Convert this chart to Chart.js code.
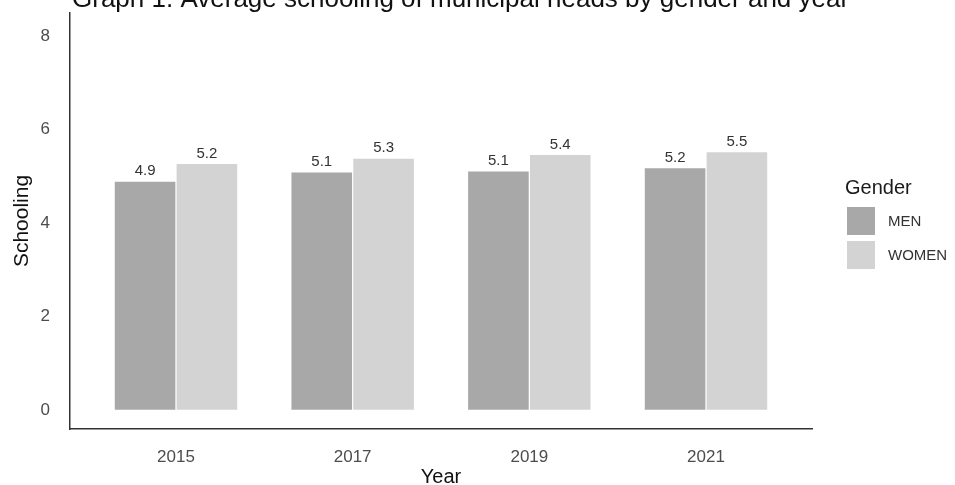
<!DOCTYPE html>
<html>
<head>
<meta charset="utf-8">
<script src="https://cdn.jsdelivr.net/npm/chart.js@4.4.1/dist/chart.umd.min.js"></script>
<style>
  html, body { margin: 0; padding: 0; background: #fff; }
  #wrap { position: relative; width: 955px; height: 485px; font-family: "Liberation Sans", Arial, sans-serif; }
  #chart { position: absolute; left: 0; top: 0; }
  .leg-title { position: absolute; left: 845px; top: 175px; font-size: 20px; color: #1a1a1a; line-height: 24px; }
  .leg-item { position: absolute; left: 847px; height: 28px; }
  .leg-item .sw { position: absolute; left: 0; top: 0; width: 28px; height: 28px; }
  .leg-item .lb { position: absolute; left: 41px; top: 5px; font-size: 15px; color: #333; white-space: nowrap; line-height: 18px; }
</style>
</head>
<body>
<div id="wrap">
  <canvas id="chart" width="955" height="485"></canvas>
  <div id="legend"></div>
</div>
<script>
// data
const years = ['2015', '2017', '2019', '2021'];
const menValues = [4.88, 5.08, 5.10, 5.17];
const womenValues = [5.26, 5.37, 5.45, 5.51];
const menLabels = ['4.9', '5.1', '5.1', '5.2'];
const womenLabels = ['5.2', '5.3', '5.4', '5.5'];
const yTicks = [0, 2, 4, 6, 8];

const menColor = '#a8a8a8';
const womenColor = '#d3d3d3';
const fontFamily = '"Liberation Sans", Arial, sans-serif';

// legend on the right
const legend = document.getElementById('legend');
legend.innerHTML = '<div class="leg-title">Gender</div>' +
  [['MEN', menColor, 207], ['WOMEN', womenColor, 241]].map(function (it) {
    return '<div class="leg-item" style="top:' + it[2] + 'px"><div class="sw" style="background:' + it[1] +
      '"></div><div class="lb">' + it[0] + '</div></div>';
  }).join('');

// title sits partly above the top edge, as in the picture
const titlePlugin = {
  id: 'topTitle',
  afterDraw(chart) {
    const ctx = chart.ctx;
    ctx.save();
    ctx.font = '26px ' + fontFamily;
    ctx.fillStyle = '#111';
    ctx.textAlign = 'left';
    ctx.textBaseline = 'alphabetic';
    ctx.fillText('Graph 1. Average schooling of municipal heads by gender and year', 72, 7);
    ctx.restore();
  }
};

// value labels above the bars
const barLabels = {
  id: 'barLabels',
  afterDatasetsDraw(chart) {
    const ctx = chart.ctx;
    const texts = [menLabels, womenLabels];
    ctx.save();
    ctx.font = '15px ' + fontFamily;
    ctx.fillStyle = '#333';
    ctx.textAlign = 'center';
    ctx.textBaseline = 'bottom';
    chart.data.datasets.forEach(function (ds, i) {
      chart.getDatasetMeta(i).data.forEach(function (bar, j) {
        ctx.fillText(texts[i][j], bar.x, bar.y - 3);
      });
    });
    ctx.restore();
  }
};

new Chart(document.getElementById('chart'), {
  type: 'bar',
  data: {
    datasets: [{
      label: 'MEN',
      data: menValues.map(function (v, i) { return { x: i, y: v }; }),
      backgroundColor: menColor,
      borderWidth: 0
    }, {
      label: 'WOMEN',
      data: womenValues.map(function (v, i) { return { x: i, y: v }; }),
      backgroundColor: womenColor,
      borderWidth: 0
    }]
  },
  options: {
    responsive: false,
    animation: false,
    events: [],
    layout: { padding: { top: 13, right: 143, left: 0, bottom: 0 } },
    datasets: { bar: { categoryPercentage: 0.7, barPercentage: 0.98 } },
    plugins: {
      legend: { display: false },
      tooltip: { enabled: false }
    },
    scales: {
      x: {
        type: 'linear',
        min: -0.6,
        max: 3.6,
        offset: false,
        afterBuildTicks: function (scale) {
          scale.ticks = years.map(function (y, i) { return { value: i }; });
        },
        afterFit: function (scale) { scale.height = 56; },
        grid: { display: false },
        border: { display: true, color: '#333', width: 1.5 },
        ticks: {
          callback: function (v) { return years[v]; },
          font: { family: fontFamily, size: 17 },
          color: '#4d4d4d',
          padding: 10,
          maxRotation: 0,
          autoSkip: false
        },
        title: {
          display: true,
          text: 'Year',
          font: { family: fontFamily, size: 20, lineHeight: 0.8 },
          color: '#111',
          padding: 0
        }
      },
      y: {
        min: -0.41,
        max: 8.49,
        afterBuildTicks: function (scale) {
          scale.ticks = yTicks.map(function (v) { return { value: v }; });
        },
        afterFit: function (scale) {
          scale.width = 70;
          scale.paddingTop = 0;
          scale.paddingBottom = 0;
        },
        grid: { display: false },
        border: { display: true, color: '#333', width: 1.5 },
        ticks: {
          font: { family: fontFamily, size: 17 },
          color: '#4d4d4d',
          padding: 12
        },
        title: {
          display: true,
          text: 'Schooling',
          font: { family: fontFamily, size: 21 },
          color: '#111',
          padding: { top: 10, bottom: 0 }
        }
      }
    }
  },
  plugins: [titlePlugin, barLabels]
});
</script>
</body>
</html>
